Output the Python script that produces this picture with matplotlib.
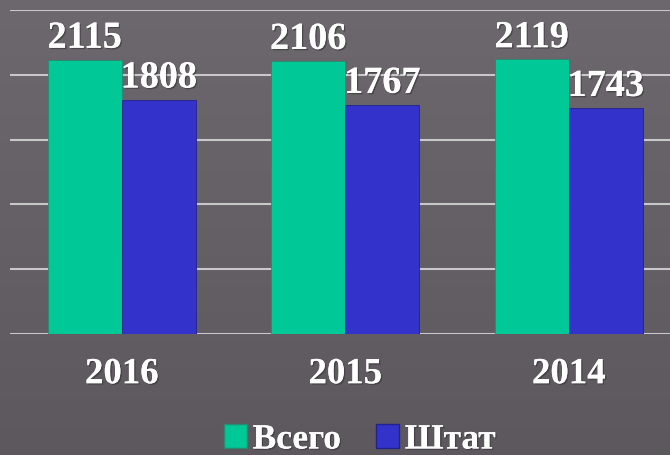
import matplotlib
matplotlib.use("Agg")
import matplotlib.pyplot as plt
import numpy as np
import matplotlib.patheffects as pe
from matplotlib.patches import Patch

years = ["2016", "2015", "2014"]
total = [2115, 2106, 2119]
staff = [1808, 1767, 1743]
series_names = ["Всего", "Штат"]

green = "#00C896"
blue = "#3333CC"
W, H = 670, 455
fig = plt.figure(figsize=(W/100, H/100), dpi=100)

# background gradient
bg = fig.add_axes([0, 0, 1, 1], zorder=-10)
grad = np.linspace(0, 1, 256).reshape(-1, 1)
top = np.array([0x6c, 0x68, 0x6d]) / 255
bot = np.array([0x5c, 0x58, 0x5d]) / 255
img = top[None, None, :] * (1 - grad[:, :, None]) + bot[None, None, :] * grad[:, :, None]
bg.imshow(img, aspect="auto", extent=[0, 1, 0, 1])
bg.axis("off")

left = 10 / W
bottom = 1 - 334 / H
height = 324 / H
ax = fig.add_axes([left, bottom, 1 - left, height])
ax.set_facecolor("none")
for s in ax.spines.values():
    s.set_visible(False)

x = np.arange(len(years))
bw = 74 / 223.5
b1 = ax.bar(x - bw/2, total, bw, color=green, edgecolor="#2a8a70", linewidth=0.6, zorder=3)
b2 = ax.bar(x + bw/2, staff, bw, color=blue, edgecolor="#22228a", linewidth=0.6, zorder=3)

ax.set_ylim(0, 2500)
ax.set_xlim(-0.5, -0.5 + (W - 10) / 223.5)
ax.set_yticks(np.arange(0, 2501, 500))
ax.yaxis.grid(True, color="#c8c8c8", linewidth=1.5, zorder=1)
ax.tick_params(axis="y", length=0, labelleft=False)
ax.tick_params(axis="x", length=0, pad=16)
ax.set_xticks(x)
ax.set_xticklabels(years, fontfamily="Liberation Serif", fontweight="bold", fontsize=26.5, color="white")

shadow = [pe.withSimplePatchShadow(offset=(1, -1), shadow_rgbFace="#333333", alpha=0.6), pe.Normal()]
for lab in ax.get_xticklabels():
    lab.set_path_effects(shadow)

for bars, vals in ((b1, total), (b2, staff)):
    for r, v in zip(bars, vals):
        ax.annotate(str(v), (r.get_x() + r.get_width()/2, v), xytext=(0, 3),
                    textcoords="offset points", ha="center", va="bottom",
                    fontfamily="Liberation Serif", fontweight="bold", fontsize=27.5,
                    color="white", path_effects=shadow, zorder=4)

handles = [Patch(facecolor=green, edgecolor="#2a8a70"), Patch(facecolor=blue, edgecolor="#22228a")]
leg = fig.legend(handles, series_names, loc="center", bbox_to_anchor=(360/W, 1 - 440/H),
                 ncol=2, frameon=False, handlelength=0.65, handleheight=0.65,
                 handletextpad=0.15, columnspacing=1.0,
                 prop={"family": "Liberation Serif", "weight": "bold", "size": 25.5})
for t in leg.get_texts():
    t.set_color("white")
    t.set_path_effects(shadow)

fig.savefig("out.png", dpi=100)
